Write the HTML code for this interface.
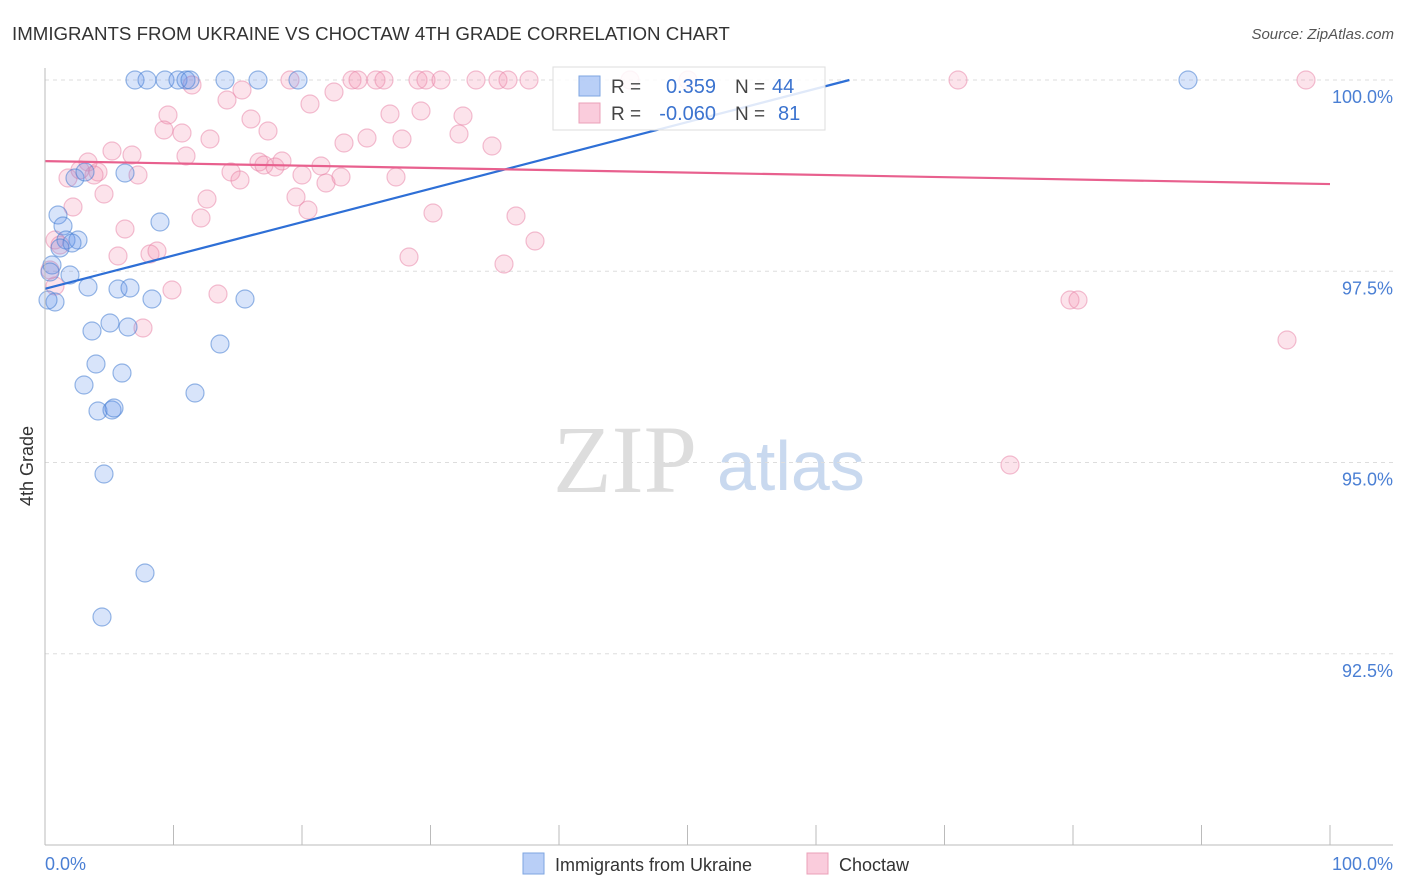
<!DOCTYPE html>
<html><head><meta charset="utf-8"><style>
body{margin:0;background:#fff;font-family:"Liberation Sans",sans-serif;}
svg{display:block}
</style></head><body>
<svg id="c" width="1406" height="892">
<text x="12" y="40" font-size="18.7" fill="#333">IMMIGRANTS FROM UKRAINE VS CHOCTAW 4TH GRADE CORRELATION CHART</text>
<text x="1394" y="39" font-size="15" fill="#555" font-style="italic" text-anchor="end">Source: ZipAtlas.com</text>
<g>
<text x="553" y="492" font-size="96" font-family="Liberation Serif,serif" fill="#ddd">ZIP</text>
<text x="717" y="490" font-size="70" fill="#c9d9ef">atlas</text></g>
<g id="grid"></g><g id="pts"></g><g id="lines"></g>
<line x1="45" y1="68" x2="45" y2="845" stroke="#bbb"/>
<line x1="45" y1="845" x2="1393" y2="845" stroke="#bbb"/>
<text x="22" y="455" font-size="18" fill="#333" transform="rotate(-90 33 455)" text-anchor="middle">4th Grade</text>
<text x="45" y="870" font-size="18" fill="#4a7fd4">0.0%</text>
<text x="1393" y="870" font-size="18" fill="#4a7fd4" text-anchor="end">100.0%</text>
<g>
<rect x="553" y="67" width="272" height="63" fill="rgba(255,255,255,0.85)" stroke="#ddd"/>
<rect x="579" y="76" width="21" height="20" fill="rgba(100,149,237,0.45)" stroke="#7ea6e0"/>
<rect x="579" y="103" width="21" height="20" fill="rgba(244,143,177,0.45)" stroke="#eba0b8"/>
<text x="611" y="93" font-size="19" fill="#444">R =</text><text x="716" y="93" font-size="20" fill="#3b73cf" text-anchor="end">0.359</text>
<text x="735" y="93" font-size="19" fill="#444">N =</text><text x="772" y="93" font-size="20" fill="#3b73cf">44</text>
<text x="611" y="120" font-size="19" fill="#444">R =</text><text x="716" y="120" font-size="20" fill="#3b73cf" text-anchor="end">-0.060</text>
<text x="735" y="120" font-size="19" fill="#444">N =</text><text x="778" y="120" font-size="20" fill="#3b73cf">81</text></g>
<g>
<rect x="523" y="853" width="21" height="21" fill="rgba(100,149,237,0.45)" stroke="#7ea6e0"/>
<text x="555" y="871" font-size="18" fill="#333">Immigrants from Ukraine</text>
<rect x="807" y="853" width="21" height="21" fill="rgba(244,143,177,0.45)" stroke="#eba0b8"/>
<text x="839" y="871" font-size="18" fill="#333">Choctaw</text></g>
</svg>
<script>
const yTicks=[100,97.5,95,92.5];
const yTickLabels=["100.0%","97.5%","95.0%","92.5%"];
const blueX=[135,147,165,178,186,190,225,258,298,1188,58,63,75,85,125,66,78,72,60,52,50,70,55,88,118,130,152,160,245,92,110,128,220,96,122,84,195,98,112,114,104,145,102,48];
const blueY=[80,80,80,80,80,80,80,80,80,80,215,226,178,172,173,240,240,243,248,265,272,275,302,287,289,288,299,222,299,331,323,327,344,364,373,385,393,411,410,408,474,573,617,300];
const pinkX=[192,290,352,358,376,384,418,426,441,476,498,508,529,630,688,958,1306,242,227,310,334,168,164,182,251,268,390,421,463,210,344,367,402,459,492,112,132,186,88,98,68,94,138,231,240,259,264,275,282,302,321,326,341,396,73,104,207,296,308,201,433,516,125,55,535,118,150,157,409,504,172,218,55,143,1070,1078,1287,1010,50,80,60];
const pinkY=[85,80,80,80,80,80,80,80,80,80,80,80,80,80,80,80,80,90,100,104,92,115,130,133,119,131,114,111,116,139,143,138,139,134,146,151,155,156,162,172,178,175,175,172,180,162,165,167,161,175,166,183,177,177,207,194,199,197,210,218,213,216,229,240,241,256,254,251,257,264,290,294,286,328,300,300,340,465,270,170,245];
const blueTrend=[97.27,100.0,62.6];
const pinkTrend=[98.94,98.64];
const NS="http://www.w3.org/2000/svg";
const X0=45,X1=1330,Y100=80,PX_PER=76.5;
const sx=v=>X0+(X1-X0)*v/100;
const sy=v=>Y100+(100-v)*PX_PER;
const pxToX=p=>(p-X0)/(X1-X0)*100, pxToY=p=>100-(p-Y100)/PX_PER;
function mk(t,a,p){const e=document.createElementNS(NS,t);for(const k in a)e.setAttribute(k,a[k]);p.appendChild(e);return e;}
const grid=document.getElementById('grid');
yTicks.forEach((t,i)=>{
 const l=mk('line',{x1:45,x2:1393,y1:sy(t),y2:sy(t),stroke:'#ddd','stroke-dasharray':'4,4'},grid);
 
 
 const tx=mk('text',{x:1393,y:sy(t)+23,'font-size':18,fill:'#4a7fd4','text-anchor':'end'},grid);
 tx.textContent=yTickLabels[i];
 
 
});
for(let i=0;i<=10;i++){
 const t=mk('line',{x1:sx(i*10),x2:sx(i*10),y1:825,y2:845,stroke:'#bbb'},grid);
 
 
}
const pts=document.getElementById('pts');
pinkX.forEach((p,i)=>{
 const c=mk('circle',{cx:sx(pxToX(p)),cy:sy(pxToY(pinkY[i])),r:9,fill:'rgba(244,143,177,0.25)',stroke:'rgba(232,130,165,0.5)','stroke-width':1.2},pts);
 
 
});
blueX.forEach((p,i)=>{
 const c=mk('circle',{cx:sx(pxToX(p)),cy:sy(pxToY(blueY[i])),r:9,fill:'rgba(100,149,237,0.25)',stroke:'rgba(70,125,210,0.55)','stroke-width':1.2},pts);
 
 
});
const lines=document.getElementById('lines');
const bl=mk('line',{x1:sx(0),y1:sy(blueTrend[0]),x2:sx(blueTrend[2]),y2:sy(blueTrend[1]),stroke:'#2e6fd6','stroke-width':2.2},lines);


const pl=mk('line',{x1:sx(0),y1:sy(pinkTrend[0]),x2:sx(100),y2:sy(pinkTrend[1]),stroke:'#e8608e','stroke-width':2.2},lines);


</script>
</body></html>
